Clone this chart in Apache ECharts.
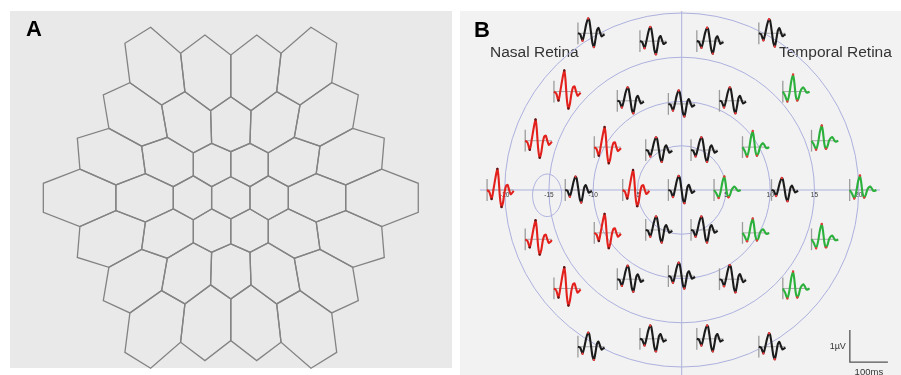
<!DOCTYPE html>
<html>
<head>
<meta charset="utf-8">
<title>mfERG stimulus and trace array</title>
<script src="https://cdn.jsdelivr.net/npm/echarts@6/dist/echarts.min.js"></script>
<style>
  html, body { margin: 0; padding: 0; background: #ffffff; }
  #main { width: 901px; height: 375px; }
</style>
</head>
<body>
<div id="main"></div>
<script>
// ---------------------------------------------------------------------------
// Scaled 37-hexagon stimulus, first quadrant vertices.
// [lattice column (x in units of √3/2), lattice row (2·y), x°, y°]
// The other quadrants are mirror images about both axes.
// ---------------------------------------------------------------------------
const quadrantVertices = [
  [1, 1, 2.60, 1.51], [3, 1, 7.80, 1.51], [5, 1, 15.58, 1.74], [7, 1, 25.42, 1.97],
  [0, 2, 0.00, 2.86], [2, 2, 5.08, 2.98], [4, 2, 11.58, 3.28], [6, 2, 20.46, 3.89],
  [0, 4, 0.00, 6.25], [2, 4, 5.08, 6.10], [4, 4, 12.09, 7.00], [6, 4, 20.81, 8.09],
  [1, 5, 2.60, 7.39], [3, 5, 8.61, 8.20], [5, 5, 16.53, 9.42],
  [1, 7, 2.74, 11.81], [3, 7, 9.38, 12.58], [5, 7, 17.29, 13.94],
  [0, 8, 0.00, 13.71], [2, 8, 6.22, 14.39], [4, 8, 13.68, 15.61],
  [0, 10, 0.00, 19.36], [2, 10, 6.81, 19.59], [4, 10, 14.36, 20.95],
  [1, 11, 3.51, 22.07], [3, 11, 10.87, 23.12]
];

// Eccentricity rings of the trace plot (degrees) and their axis labels
const ringRadii = [5, 10, 15, 20];
const axisTickValues = [-20, -15, -10, -5, 5, 10, 15, 20];

// Blind spot outline: centre x°, centre y°, half-width°, half-height°
const blindSpot = [-15.2, -0.6, 1.65, 2.4];

// Response groups per hexagon, rows top to bottom, left to right
// k = normal, r = nasal loss, g = temporal
const traceGroup = [
  'k', 'k', 'k', 'k',
  'r', 'k', 'k', 'k', 'g',
  'r', 'r', 'k', 'k', 'g', 'g',
  'r', 'k', 'r', 'k', 'g', 'k', 'g',
  'r', 'r', 'k', 'k', 'g', 'g',
  'r', 'k', 'k', 'k', 'g',
  'k', 'k', 'k', 'k'
];

// Relative response amplitude of each trace (same order)
const traceGain = [
  1.05, 1.00, 0.95, 1.00,
  1.00, 0.95, 0.95, 0.95, 1.00,
  1.00, 0.95, 0.90, 0.90, 0.95, 0.90,
  1.00, 0.95, 0.95, 1.00, 0.80, 0.85, 0.85,
  0.90, 0.90, 0.95, 0.95, 0.85, 0.90,
  1.00, 0.95, 0.95, 1.00, 1.00,
  1.00, 0.95, 0.95, 0.95
];

// First-order kernel waveforms (µV) sampled at these times (ms)
const waveTimes = [0, 6, 12, 17, 22, 27, 30, 34, 38, 42, 46, 50, 54, 58, 62, 66, 70];
const waveNormal = [0, -0.03, -0.22, 0.00, 0.28, 0.44, 0.38, 0.06, -0.28, -0.41, -0.19, 0.09, 0.16, 0.03, -0.09, -0.06, -0.03];
const waveNasal = [0, -0.06, -0.28, 0.03, 0.38, 0.66, 0.41, -0.25, -0.53, -0.38, -0.06, 0.13, 0.16, 0.00, -0.13, -0.09, -0.03];
const waveTemporal = [0, -0.13, -0.31, -0.09, 0.31, 0.53, 0.31, -0.13, -0.28, -0.19, 0.00, 0.09, 0.13, 0.06, -0.03, -0.03, 0.00];

// Scale bar values
const scaleBarUv = 1;
const scaleBarMs = 100;

// ---------------------------------------------------------------------------
// Geometry
// ---------------------------------------------------------------------------
const vertexTable = {};
quadrantVertices.forEach(([c, r, x, y]) => { vertexTable[c + ':' + r] = [x, y]; });

function latticeVertex(col, row) {
  const v = vertexTable[Math.abs(col) + ':' + Math.abs(row)];
  return [col < 0 ? -v[0] : v[0], row < 0 ? -v[1] : v[1]];
}

// Pointy-top hexagon patch, 3 rings around the centre
const hexagons = [];
for (let j = 3; j >= -3; j--) {
  const n = 7 - Math.abs(j);
  const span = 6 - Math.abs(j);
  for (let i = 0; i < n; i++) {
    const c = 2 * i - span;
    const rc = 3 * j;
    hexagons.push([
      latticeVertex(c, rc + 2), latticeVertex(c + 1, rc + 1), latticeVertex(c + 1, rc - 1),
      latticeVertex(c, rc - 2), latticeVertex(c - 1, rc - 1), latticeVertex(c - 1, rc + 1)
    ]);
  }
}
const centroids = hexagons.map(h => [
  h.reduce((s, p) => s + p[0], 0) / h.length,
  h.reduce((s, p) => s + p[1], 0) / h.length
]);

// Trace scaling inside the field plot: 100 ms spans 4.3°, 1 µV spans 3.62°
const DEG_PER_MS = 0.043;
const DEG_PER_UV = 3.62;
const TRACE_CENTRE_MS = 35;

const waveforms = { k: waveNormal, r: waveNasal, g: waveTemporal };
const traceColor = { k: '#1b1b1b', r: '#e3211c', g: '#2bb03b' };
const markColor = { k: '#e8383a', r: '#5a1a1a', g: '#e8383a' };

function keyPoints(w) {
  let p1 = 0;
  w.forEach((v, i) => { if (v > w[p1]) p1 = i; });
  let n1 = 0;
  for (let i = 0; i < p1; i++) if (w[i] < w[n1]) n1 = i;
  let n2 = p1;
  for (let i = p1; i < w.length; i++) if (w[i] < w[n2]) n2 = i;
  return [n1, p1, n2];
}

// Axis windows (equal degree scale on x and y within each panel)
const A_SCALE = 7.375, A_CX = 230.8, A_CY = 197.8;
const gridA = { left: 10, top: 11, width: 442, height: 357 };
const B_SCALE = 8.85, B_CX = 681.7, B_CY = 190;
const gridB = { left: 460, top: 11, width: 441, height: 364 };

const chart = echarts.init(document.getElementById('main'), null, { renderer: 'canvas' });
const FONT = '"Liberation Sans", Arial, Helvetica, sans-serif';
const ringColor = '#adb1de';

const option = {
  animation: false,
  backgroundColor: '#ffffff',
  grid: [
    Object.assign({ show: true, backgroundColor: '#e9e9e9', borderWidth: 0 }, gridA),
    Object.assign({ show: true, backgroundColor: '#f2f2f2', borderWidth: 0 }, gridB)
  ],
  xAxis: [
    { gridIndex: 0, type: 'value', show: false,
      min: (gridA.left - A_CX) / A_SCALE, max: (gridA.left + gridA.width - A_CX) / A_SCALE },
    { gridIndex: 1, type: 'value', show: false,
      min: (gridB.left - B_CX) / B_SCALE, max: (gridB.left + gridB.width - B_CX) / B_SCALE }
  ],
  yAxis: [
    { gridIndex: 0, type: 'value', show: false,
      min: (A_CY - gridA.top - gridA.height) / A_SCALE, max: (A_CY - gridA.top) / A_SCALE },
    { gridIndex: 1, type: 'value', show: false,
      min: (B_CY - gridB.top - gridB.height) / B_SCALE, max: (B_CY - gridB.top) / B_SCALE }
  ],
  graphic: [
    { type: 'text', left: 26, top: 19, style: { text: 'A', font: 'bold 22px ' + FONT, fill: '#000' } },
    { type: 'text', left: 474, top: 20, style: { text: 'B', font: 'bold 22px ' + FONT, fill: '#000' } },
    { type: 'text', left: 490, top: 45, style: { text: 'Nasal Retina', font: '15.5px ' + FONT, fill: '#333' } },
    { type: 'text', left: 779, top: 45, style: { text: 'Temporal Retina', font: '15.5px ' + FONT, fill: '#333' } }
  ],
  series: [
    {
      // stimulus hexagons
      type: 'custom', name: 'stimulus', xAxisIndex: 0, yAxisIndex: 0, z: 2,
      data: centroids,
      renderItem: (params, api) => ({
        type: 'polygon',
        shape: { points: hexagons[params.dataIndex].map(p => api.coord(p)) },
        style: { fill: 'none', stroke: '#838383', lineWidth: 1.3 }
      })
    },
    {
      // eccentricity rings
      type: 'custom', name: 'rings', xAxisIndex: 1, yAxisIndex: 1, z: 2,
      data: ringRadii.map(r => [r, 0]),
      renderItem: (params, api) => {
        const c = api.coord([0, 0]);
        const r = api.size([ringRadii[params.dataIndex], 0])[0];
        return { type: 'circle', shape: { cx: c[0], cy: c[1], r: r },
          style: { fill: 'none', stroke: ringColor, lineWidth: 1 } };
      }
    },
    {
      // meridians
      type: 'custom', name: 'meridians', xAxisIndex: 1, yAxisIndex: 1, z: 2, clip: true,
      data: [[0, 0]],
      renderItem: (params, api) => {
        const h1 = api.coord([-22.8, 0]), h2 = api.coord([22.4, 0]);
        const v1 = api.coord([0, 22.8]), v2 = api.coord([0, -22.8]);
        return { type: 'group', children: [
          { type: 'line', shape: { x1: h1[0], y1: h1[1], x2: h2[0], y2: h2[1] },
            style: { stroke: ringColor, lineWidth: 1 } },
          { type: 'line', shape: { x1: v1[0], y1: v1[1], x2: v2[0], y2: v2[1] },
            style: { stroke: ringColor, lineWidth: 1 } }
        ] };
      }
    },
    {
      // blind spot outline
      type: 'custom', name: 'blind spot', xAxisIndex: 1, yAxisIndex: 1, z: 2,
      data: [[blindSpot[0], blindSpot[1]]],
      renderItem: (params, api) => {
        const pts = [];
        for (let k = 0; k < 60; k++) {
          const a = (k / 60) * Math.PI * 2;
          pts.push(api.coord([blindSpot[0] + blindSpot[2] * Math.cos(a), blindSpot[1] + blindSpot[3] * Math.sin(a)]));
        }
        return { type: 'polygon', shape: { points: pts },
          style: { fill: 'none', stroke: ringColor, lineWidth: 1 } };
      }
    },
    {
      // eccentricity labels on the horizontal meridian
      type: 'custom', name: 'tick labels', xAxisIndex: 1, yAxisIndex: 1, z: 3,
      data: axisTickValues.map(v => [v, 0]),
      renderItem: (params, api) => {
        const v = axisTickValues[params.dataIndex];
        const p = api.coord([v, 0]);
        return { type: 'text', x: p[0], y: p[1] + 5,
          style: { text: String(v), fill: '#3a3a3a', font: '6.5px ' + FONT, align: 'center', verticalAlign: 'middle' } };
      }
    },
    {
      // response traces at each hexagon centre
      type: 'custom', name: 'traces', xAxisIndex: 1, yAxisIndex: 1, z: 5,
      data: centroids,
      renderItem: (params, api) => {
        const i = params.dataIndex;
        const [cx, cy] = centroids[i];
        const grp = traceGroup[i];
        const w = waveforms[grp];
        const g = traceGain[i];
        const x0 = cx - TRACE_CENTRE_MS * DEG_PER_MS;
        const at = (t, v) => api.coord([x0 + t * DEG_PER_MS, cy + v * DEG_PER_UV]);
        const tEnd = waveTimes[waveTimes.length - 1];
        const b1 = at(0, 0), b2 = at(tEnd, 0);
        const k1 = at(0, 0.34), k2 = at(0, -0.34);
        const pts = waveTimes.map((t, n) => at(t, w[n] * g));
        const children = [
          { type: 'line', shape: { x1: b1[0], y1: b1[1], x2: b2[0], y2: b2[1] },
            style: { stroke: '#a9a9a9', lineWidth: 1 } },
          { type: 'line', shape: { x1: k1[0], y1: k1[1], x2: k2[0], y2: k2[1] },
            style: { stroke: '#9c9c9c', lineWidth: 1.3 } },
          { type: 'polyline', shape: { points: pts, smooth: 0.25 },
            style: { fill: 'none', stroke: traceColor[grp], lineWidth: 2.1 } }
        ];
        keyPoints(w).forEach(n => {
          children.push({ type: 'circle', shape: { cx: pts[n][0], cy: pts[n][1], r: 1.2 },
            style: { fill: markColor[grp] }, z2: 5 });
        });
        return { type: 'group', children: children };
      }
    },
    {
      // calibration bar
      type: 'custom', name: 'scale bar', xAxisIndex: 1, yAxisIndex: 1, z: 5,
      data: [[scaleBarMs, scaleBarUv]],
      renderItem: (params, api) => {
        const ox = 19.0, oy = -19.45;
        const o = api.coord([ox, oy]);
        const top = api.coord([ox, oy + scaleBarUv * DEG_PER_UV]);
        const right = api.coord([ox + scaleBarMs * DEG_PER_MS, oy]);
        return { type: 'group', children: [
          { type: 'polyline', shape: { points: [top, o, right] },
            style: { fill: 'none', stroke: '#555', lineWidth: 1.3 } },
          { type: 'text', x: o[0] - 4, y: (o[1] + top[1]) / 2,
            style: { text: '1µV', fill: '#333', font: '9px ' + FONT, align: 'right', verticalAlign: 'middle' } },
          { type: 'text', x: (o[0] + right[0]) / 2, y: o[1] + 5,
            style: { text: '100ms', fill: '#333', font: '9.5px ' + FONT, align: 'center', verticalAlign: 'top' } }
        ] };
      }
    }
  ]
};

chart.setOption(option);
</script>
</body>
</html>
